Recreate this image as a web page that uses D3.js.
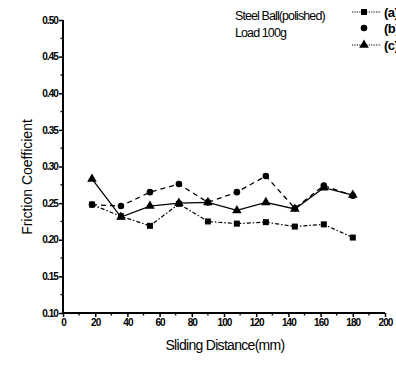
<!DOCTYPE html>
<html>
<head>
<meta charset="utf-8">
<script src="https://cdn.jsdelivr.net/npm/d3@7"></script>
<style>
body { margin: 0; background: #fff; }
svg { font-family: "Liberation Sans", Arial, sans-serif; }
</style>
</head>
<body>
<svg id="chart" width="396" height="365"></svg>
<script>
// data
var distance = [18, 36, 54, 72, 90, 108, 126, 144, 162, 180];
var seriesA = [0.248, 0.232, 0.219, 0.249, 0.225, 0.222, 0.224, 0.218, 0.221, 0.203];
var seriesB = [0.248, 0.246, 0.265, 0.276, 0.251, 0.265, 0.287, 0.243, 0.274, 0.260];
var seriesC = [0.283, 0.231, 0.246, 0.250, 0.251, 0.240, 0.251, 0.242, 0.271, 0.261];
var seriesNames = ['(a)', '(b)', '(c)'];
var xTicks = [0, 20, 40, 60, 80, 100, 120, 140, 160, 180, 200];
var yTicks = [0.10, 0.15, 0.20, 0.25, 0.30, 0.35, 0.40, 0.45, 0.50];

var svg = d3.select('#chart');

var x = d3.scaleLinear().domain([0, 200]).range([63, 385]);
var y = d3.scaleLinear().domain([0.10, 0.50]).range([313, 20]);

// minor ticks
var xMinor = d3.range(10, 200, 20);
var yMinor = d3.range(0.125, 0.5, 0.05);

svg.append('g').selectAll('line').data(xMinor).enter().append('line')
    .attr('x1', function(d) { return x(d); }).attr('x2', function(d) { return x(d); })
    .attr('y1', 313).attr('y2', 315.5)
    .style('stroke', '#000').style('stroke-width', 1.3);
svg.append('g').selectAll('line').data(yMinor).enter().append('line')
    .attr('y1', function(d) { return y(d); }).attr('y2', function(d) { return y(d); })
    .attr('x1', 63).attr('x2', 60.5)
    .style('stroke', '#000').style('stroke-width', 1.3);

var xAxis = svg.append('g')
    .attr('transform', 'translate(0,313)')
    .call(d3.axisBottom(x).tickValues(xTicks).tickSize(4).tickPadding(2).tickFormat(d3.format('d')));
var yAxis = svg.append('g')
    .attr('transform', 'translate(63,0)')
    .call(d3.axisLeft(y).tickValues(yTicks).tickSize(4).tickPadding(1).tickFormat(d3.format('.2f')));

[xAxis, yAxis].forEach(function(a) {
    a.select('.domain').style('stroke-width', 2);
    a.selectAll('.tick line').style('stroke-width', 1.5);
    a.selectAll('text').style('font-size', '10px').style('font-weight', 'bold')
        .style('letter-spacing', '-0.9px').style('fill', '#000');
});
xAxis.select('.domain').attr('d', 'M63,0H385');
yAxis.select('.domain').attr('d', 'M0,313V20');

// axis titles
svg.append('text')
    .attr('x', 225).attr('y', 350)
    .attr('text-anchor', 'middle')
    .style('font-size', '14px').style('letter-spacing', '-0.7px')
    .text('Sliding Distance(mm)');
svg.append('text')
    .attr('transform', 'translate(32,177) rotate(-90)')
    .attr('text-anchor', 'middle')
    .style('font-size', '14px').style('letter-spacing', '0px')
    .text('Friction Coefficient');

// annotation
svg.append('text').attr('x', 235).attr('y', 20)
    .style('font-size', '12.5px').style('letter-spacing', '-0.9px')
    .text('Steel Ball(polished)');
svg.append('text').attr('x', 235).attr('y', 37)
    .style('font-size', '12.5px').style('letter-spacing', '-0.9px')
    .text('Load 100g');

var series = [
    { name: seriesNames[0], values: seriesA, shape: d3.symbolSquare, size: 36, dash: '4,2,1.5,2', width: 1.2 },
    { name: seriesNames[1], values: seriesB, shape: d3.symbolCircle, size: 34, dash: '5,4', width: 1.3 },
    { name: seriesNames[2], values: seriesC, shape: d3.symbolTriangle, size: 40, dash: null, width: 1.3 }
];

var line = d3.line()
    .x(function(d) { return x(d[0]); })
    .y(function(d) { return y(d[1]); });

series.forEach(function(s) {
    var pts = distance.map(function(d, i) { return [d, s.values[i]]; });
    svg.append('path')
        .attr('d', line(pts))
        .style('fill', 'none')
        .style('stroke', '#000')
        .style('stroke-width', s.width)
        .style('stroke-dasharray', s.dash);
    svg.append('g').selectAll('path').data(pts).enter().append('path')
        .attr('transform', function(d) { return 'translate(' + x(d[0]) + ',' + y(d[1]) + ')'; })
        .attr('d', d3.symbol().type(s.shape).size(s.size))
        .style('fill', '#000');
});

// legend
var legendY = [12, 28, 45];
var legend = svg.append('g').selectAll('g').data(series).enter().append('g')
    .attr('transform', function(d, i) { return 'translate(0,' + legendY[i] + ')'; });
legend.filter(function(d, i) { return i !== 1; }).append('line')
    .attr('x1', 352).attr('x2', 381).attr('y1', 0).attr('y2', 0)
    .style('stroke', '#000').style('stroke-width', 1).style('stroke-dasharray', '1.2,1.2');
legend.append('path')
    .attr('transform', 'translate(364,0)')
    .attr('d', function(d) { return d3.symbol().type(d.shape).size(d.size)(); })
    .style('fill', '#000');
legend.append('text')
    .attr('x', 384).attr('y', 5)
    .style('font-size', '13px').style('font-weight', 'bold').style('letter-spacing', '-0.5px')
    .text(function(d) { return d.name; });
</script>
</body>
</html>
